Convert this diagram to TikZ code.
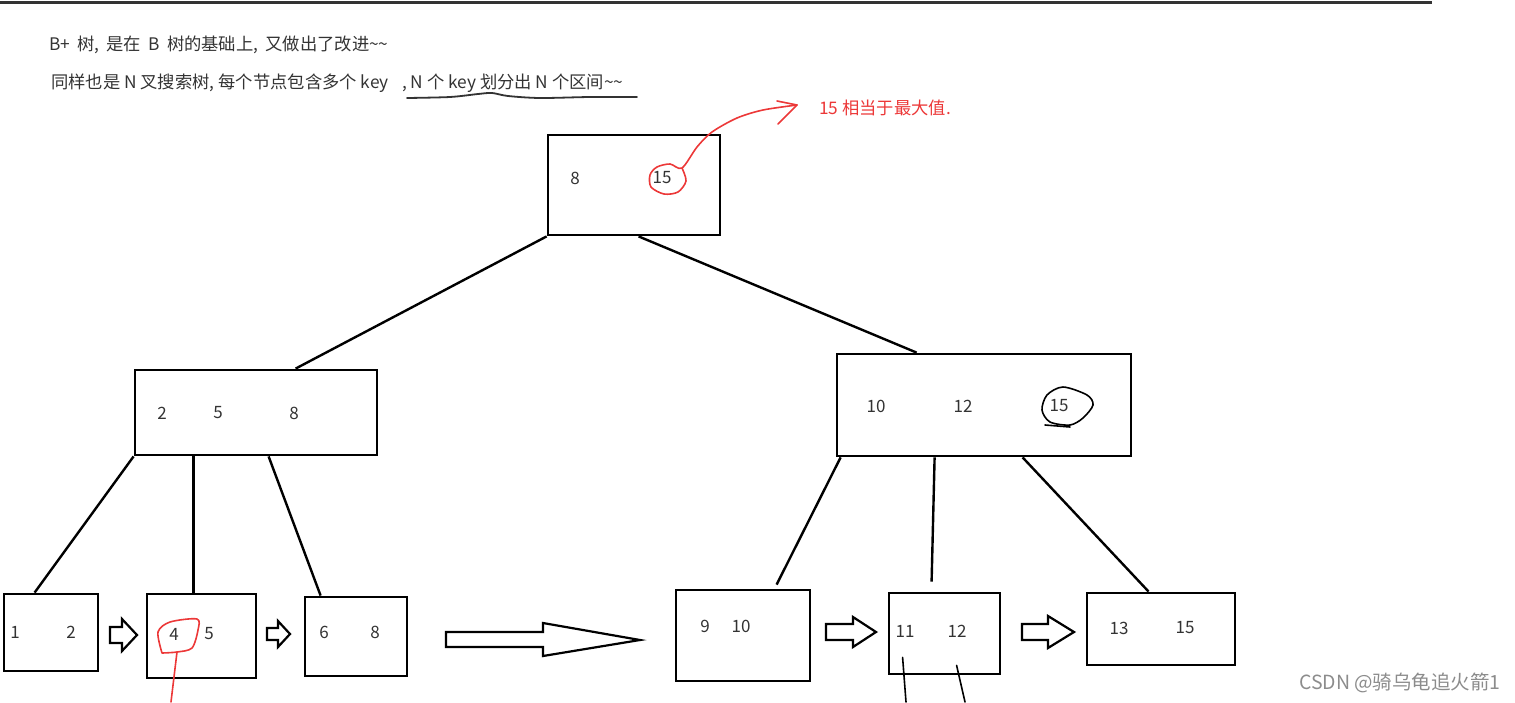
\documentclass[tikz,border=0pt]{standalone}
\usepackage{fontspec}
\setmainfont{Noto Sans CJK SC}
\definecolor{inkred}{RGB}{236,56,56}
\definecolor{textgray}{RGB}{51,51,51}

\begin{document}
\begin{tikzpicture}[x=1pt, y=-1pt,
  box/.style={draw=black, line width=2.8pt, inner sep=0pt},
  num/.style={text=textgray, inner sep=0pt, font=\fontsize{17}{17}\selectfont},
  txt/.style={text=textgray, inner sep=0pt, anchor=west, font=\fontsize{17.3}{17.3}\selectfont},
  edge/.style={line width=2.4pt, black},
  blockarrow/.style={draw=black, line width=2.2pt, line join=miter},
  pen/.style={line width=1.6pt, line cap=round, line join=round}]
\useasboundingbox (0,0) rectangle (1515,702);

\draw[line width=3pt, textgray] (0,2) -- (1432,2);

\node[txt] (line1) at (49,45) {\spaceskip=7.2pt\relax B+ 树, 是在 B 树的基础上, 又做出了改进\textasciitilde\textasciitilde};
\node[txt] (line2a) at (51,83) {同样也是 N 叉搜索树, 每个节点包含多个 key};
\node[txt] (line2b) at (402,83) {, N 个 key 划分出 N 个区间\textasciitilde\textasciitilde};
\draw[pen, line width=1.8pt, textgray] plot[smooth] coordinates {(407,98) (450,97) (478,94) (492,93) (508,96) (540,98) (590,97) (637,97)};
\node[txt, text=inkred] (note) at (819,108) {15 相当于最大值.};

\node[box, minimum width=172, minimum height=100] (root) at (634,185) {};
\node[box, minimum width=242, minimum height=85] (lmid) at (256,412.5) {};
\node[box, minimum width=294, minimum height=102] (rmid) at (984,405) {};
\node[box, minimum width=94, minimum height=77] (l1) at (51,632.5) {};
\node[box, minimum width=109, minimum height=84] (l2) at (201.5,636) {};
\node[box, minimum width=102, minimum height=79] (l3) at (356,636.5) {};
\node[box, minimum width=134, minimum height=91] (l4) at (743,635.5) {};
\node[box, minimum width=111, minimum height=81] (l5) at (944.5,633.5) {};
\node[box, minimum width=148, minimum height=72] (l6) at (1161,629) {};

\node[num] (r8) at (575,178) {8};
\node[num] (r15) at (662,178) {15};
\node[num] (m2) at (162,413) {2};
\node[num] (m5) at (218,413) {5};
\node[num] (m8) at (294,413) {8};
\node[num] (n10) at (876,406) {10};
\node[num] (n12) at (963,406) {12};
\node[num] (n15) at (1059,406) {15};
\node[num] (a1) at (15,632) {1};
\node[num] (a2) at (71,632) {2};
\node[num] (b4) at (174,634) {4};
\node[num] (b5) at (209,634) {5};
\node[num] (c6) at (324,632) {6};
\node[num] (c8) at (375,632) {8};
\node[num] (d9) at (705,626) {9};
\node[num] (d10) at (741,626) {10};
\node[num] (e11) at (905,631) {11};
\node[num] (e12) at (957,631) {12};
\node[num] (f13) at (1119,628) {13};
\node[num] (f15) at (1185,628) {15};

\draw[edge] (root.south west) -- ([xshift=162]lmid.north west);
\draw[edge] ([xshift=92]root.south west) -- ([xshift=81]rmid.north west);
\draw[edge] (lmid.south west) -- ([xshift=32]l1.north west);
\draw[edge] ([xshift=60]lmid.south west) -- ([xshift=48]l2.north west);
\draw[edge] ([xshift=135]lmid.south west) -- ([xshift=17]l3.north west);
\draw[edge] ([xshift=5]rmid.south west) -- ([xshift=102,yshift=4]l4.north west);
\draw[edge] ([xshift=99]rmid.south west) -- ([xshift=44,yshift=10]l5.north west);
\draw[edge] ([xshift=187]rmid.south west) -- ([xshift=63]l6.north west);

\coordinate (cut1) at (906,702);
\coordinate (cut2) at (965,702);
\draw[pen] ([xshift=15,yshift=18]l5.south west) -- (cut1);
\draw[pen] ([xshift=69,yshift=10]l5.south west) -- (cut2);

\draw[blockarrow] (110,627) -- (122,627) -- (122,619) -- (137,635) -- (122,651) -- (122,643) -- (110,643) -- cycle;
\draw[blockarrow] (267,628) -- (278,628) -- (278,621) -- (290,634) -- (278,647) -- (278,640) -- (267,640) -- cycle;
\draw[blockarrow] (446,632) -- (543,632) -- (543,623) -- (640,640) -- (543,656) -- (543,647) -- (446,647) -- cycle;
\draw[blockarrow] (826,624) -- (853,624) -- (853,617) -- (876,632) -- (853,647) -- (853,640) -- (826,640) -- cycle;
\draw[blockarrow] (1022,624) -- (1048,624) -- (1048,616) -- (1074,632) -- (1048,648) -- (1048,640) -- (1022,640) -- cycle;

\draw[pen, inkred] plot[smooth] coordinates {(682,168) (686,181) (678,192) (664,194) (651,187) (650,175) (657,167) (670,164) (682,168) (697,147) (712,132) (737,118) (763,110) (797,105)};
\draw[pen, inkred] (777,101) -- (797,105) -- (778,124);
\draw[pen, inkred] plot[smooth] coordinates {(162,653) (158,632) (170,622) (197,619) (198,630) (192,648) (177,652) (162,653)};
\coordinate (cut0) at (171,702);
\draw[pen, inkred] (177,652) -- (cut0);

\draw[pen] plot[smooth cycle] coordinates {(1047,395) (1063,387) (1087,395) (1093,405) (1083,418) (1070,425) (1050,422) (1042,410)};
\draw[pen] (1045,425) -- (1070,427);

\node[anchor=east, inner sep=0pt, text=black!45, font=\fontsize{19.5}{19.5}\selectfont] (mark) at (1501,683) {CSDN @骑乌龟追火箭1};
\end{tikzpicture}
\end{document}
